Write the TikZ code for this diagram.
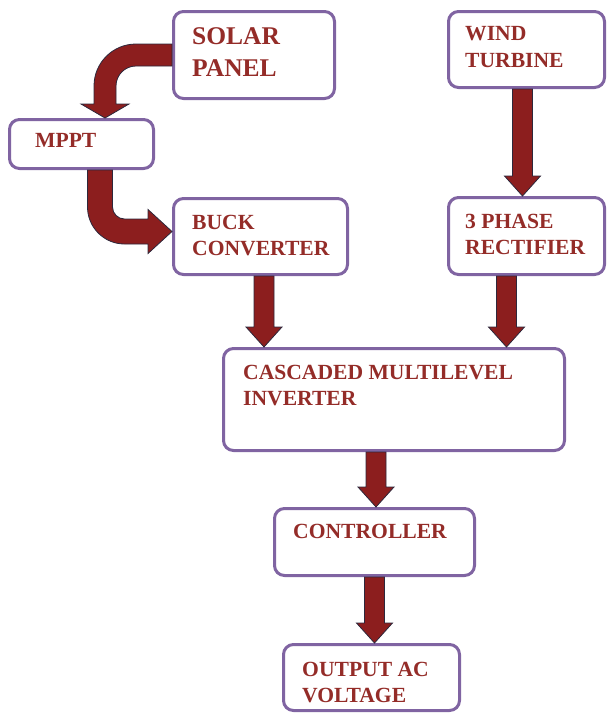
\documentclass[tikz,border=0pt]{standalone}
\usepackage{fontspec}
\setmainfont{Liberation Serif}
\usetikzlibrary{calc}
\definecolor{boxpurple}{RGB}{128,100,162}
\definecolor{txtred}{RGB}{148,44,40}
\definecolor{arrred}{RGB}{140,30,30}
\definecolor{arrline}{RGB}{45,40,60}
% straight downward block arrow: #1 start point, #2 gives the tip's y
\newcommand\varrow[2]{%
  \path[blockarrow] let \p1=#1, \p2=#2 in
    (\x1-10pt,\y1) -- (\x1-10pt,\y2+20pt) -- (\x1-18pt,\y2+20pt) --
    (\x1,\y2) -- (\x1+18pt,\y2+20pt) -- (\x1+10pt,\y2+20pt) --
    (\x1+10pt,\y1) -- cycle;}
\begin{document}
\begin{tikzpicture}[x=1pt,y=-1pt,
  box/.style={draw=boxpurple, line width=3pt, rounded corners=10pt,
    fill=white, anchor=north west, inner sep=0pt},
  lbl/.style={text=txtred, font=\fontsize{21.6}{26.5}\selectfont\bfseries,
    align=left, anchor=north west, inner sep=0pt},
  biglbl/.style={lbl, font=\fontsize{25.5}{32}\selectfont\bfseries},
  blockarrow/.style={fill=arrred, draw=arrline, line width=0.8pt, line join=miter}]
\useasboundingbox (0,0) rectangle (610,715);
% boxes
\node[box, minimum width=161pt, minimum height=87pt] (solar) at (172,10) {};
\node[box, minimum width=156pt, minimum height=76pt] (wind) at (447,10) {};
\node[box, minimum width=144pt, minimum height=49pt] (mppt) at (8,118) {};
\node[box, minimum width=174pt, minimum height=76pt] (buck) at (172,197) {};
\node[box, minimum width=156pt, minimum height=77pt] (rect) at (447,196) {};
\node[box, minimum width=341pt, minimum height=102pt] (cmi) at (222,347) {};
\node[box, minimum width=200pt, minimum height=67pt] (ctrl) at (273,507) {};
\node[box, minimum width=176pt, minimum height=66pt] (out) at (282,643) {};
% texts
\node[biglbl] (solart) at (192,27.5) {SOLAR\\PANEL};
\node[lbl] (windt) at (465,26.5) {WIND\\TURBINE};
\node[lbl] (mpptt) at (35,133.5) {MPPT};
\node[lbl] (buckt) at (192,214.5) {BUCK\\CONVERTER};
\node[lbl] (rectt) at (465,213.5) {3 PHASE\\RECTIFIER};
\node[lbl] (cmit) at (243,364.5) {CASCADED MULTILEVEL\\INVERTER};
\node[lbl] (ctrlt) at (293,523.5) {CONTROLLER};
\node[lbl] (outt) at (302,661.5) {OUTPUT AC\\VOLTAGE};
% straight arrows
\varrow{([xshift=-4pt]wind.south)}{(rect.north)}
\varrow{([xshift=3.5pt]buck.south)}{(cmi.north)}
\varrow{([xshift=-20pt]rect.south)}{(cmi.north)}
\varrow{([xshift=-18pt]cmi.south)}{(ctrl.north)}
\varrow{(ctrl.south)}{(out.north)}
% curved arrow: solar panel -> MPPT
\path[blockarrow] let \p1=(solar.west), \p2=([xshift=23.5pt]mppt.north) in
  (\x1,\y1+11pt) -- (\x2+31pt,\y1+11pt)
  .. controls (\x2+7.8pt,\y1+11pt) and (\x2-11pt,\y1-7.8pt) .. (\x2-11pt,\y1-31pt)
  -- (\x2-11pt,\y2+14pt) -- (\x2-24pt,\y2+14pt) -- (\x2,\y2)
  -- (\x2+24pt,\y2+14pt) -- (\x2+11pt,\y2+14pt) -- (\x2+11pt,\y1-31pt)
  .. controls (\x2+11pt,\y1-19.95pt) and (\x2+19.95pt,\y1-11pt) .. (\x2+31pt,\y1-11pt)
  -- (\x1,\y1-11pt) -- cycle;
% curved arrow: MPPT -> buck converter
\path[blockarrow] let \p1=([xshift=18.5pt]mppt.south), \p2=([yshift=5pt]buck.west) in
  (\x1-12.5pt,\y1) -- (\x1-12.5pt,\y2+24.5pt)
  .. controls (\x1-12.5pt,\y2+4.1pt) and (\x1+4.1pt,\y2-12.5pt) .. (\x1+24.5pt,\y2-12.5pt)
  -- (\x2-24pt,\y2-12.5pt) -- (\x2-24pt,\y2-22pt) -- (\x2,\y2)
  -- (\x2-24pt,\y2+22pt) -- (\x2-24pt,\y2+12.5pt) -- (\x1+24.5pt,\y2+12.5pt)
  .. controls (\x1+17.9pt,\y2+12.5pt) and (\x1+12.5pt,\y2+17.9pt) .. (\x1+12.5pt,\y2+24.5pt)
  -- (\x1+12.5pt,\y1) -- cycle;
\end{tikzpicture}
\end{document}
